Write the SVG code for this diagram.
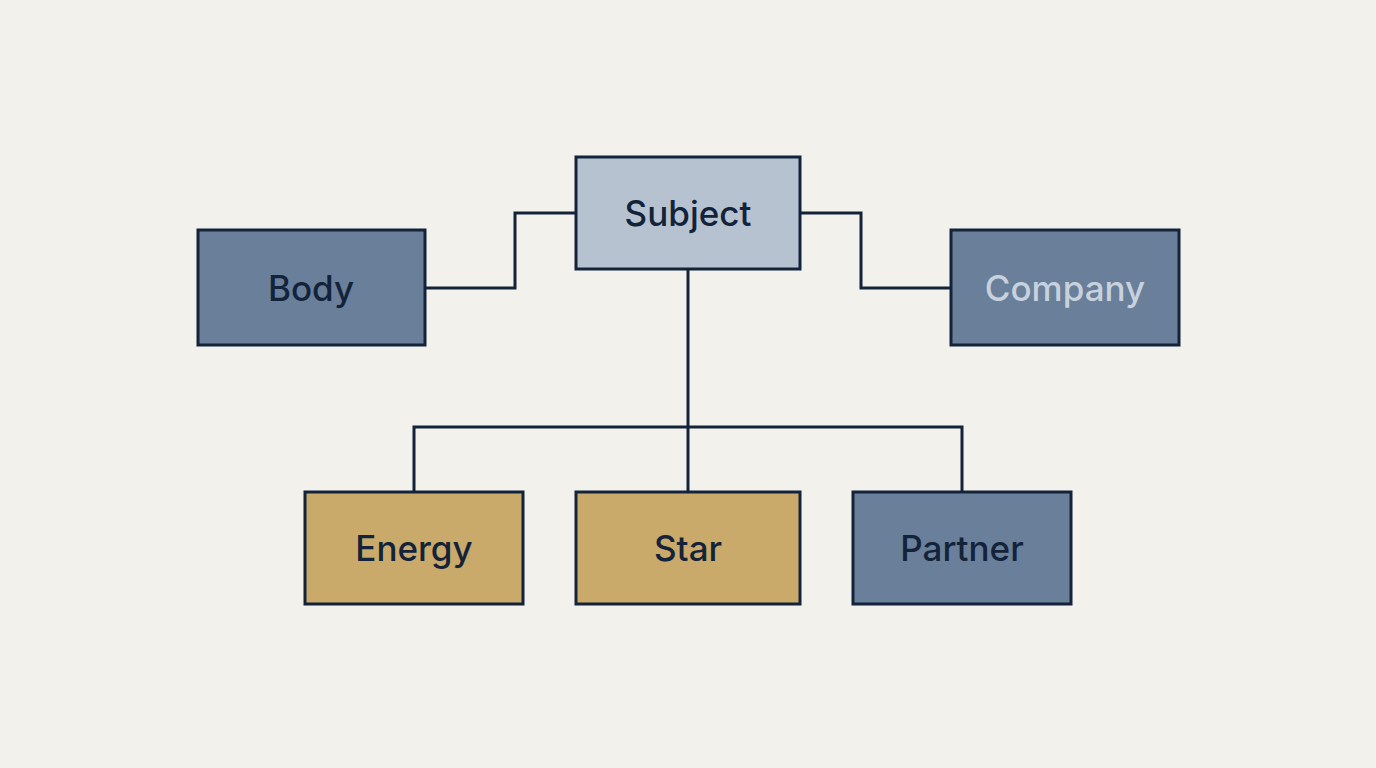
<svg xmlns="http://www.w3.org/2000/svg" width="1376" height="768" viewBox="0 0 1376 768">
<style>
.n{stroke:#13233A;stroke-width:3}
.t{font-family:Inter,"Liberation Sans",sans-serif;font-size:35px;font-weight:500;fill:#13233A;text-anchor:middle;dominant-baseline:central}
.c{fill:none;stroke:#13233A;stroke-width:3}
</style>
<rect width="1376" height="768" fill="#F3F1EC"/>
<g id="connectors">
<polyline class="c" points="425,288 515,288 515,213 576,213"/>
<polyline class="c" points="800,213 861,213 861,288 951,288"/>
<line class="c" x1="688" y1="269" x2="688" y2="492"/>
<polyline class="c" points="414,492 414,427 962,427 962,492"/>
</g>
<g id="subject"><rect class="n" x="576" y="157" width="224" height="112" fill="#B6C2D0"/><text class="t" x="688" y="213">Subject</text></g>
<g id="body"><rect class="n" x="198" y="230" width="227" height="115" fill="#6A7F9A"/><text class="t" x="311" y="288">Body</text></g>
<g id="company"><rect class="n" x="951" y="230" width="228" height="115" fill="#6A7F9A"/><text class="t" x="1065" y="288" style="fill:#C8D2DE">Company</text></g>
<g id="energy"><rect class="n" x="305" y="492" width="218" height="112" fill="#C9AA6A"/><text class="t" x="414" y="548">Energy</text></g>
<g id="star"><rect class="n" x="576" y="492" width="224" height="112" fill="#C9AA6A"/><text class="t" x="688" y="548">Star</text></g>
<g id="partner"><rect class="n" x="853" y="492" width="218" height="112" fill="#6A7F9A"/><text class="t" x="962" y="548">Partner</text></g>
</svg>
